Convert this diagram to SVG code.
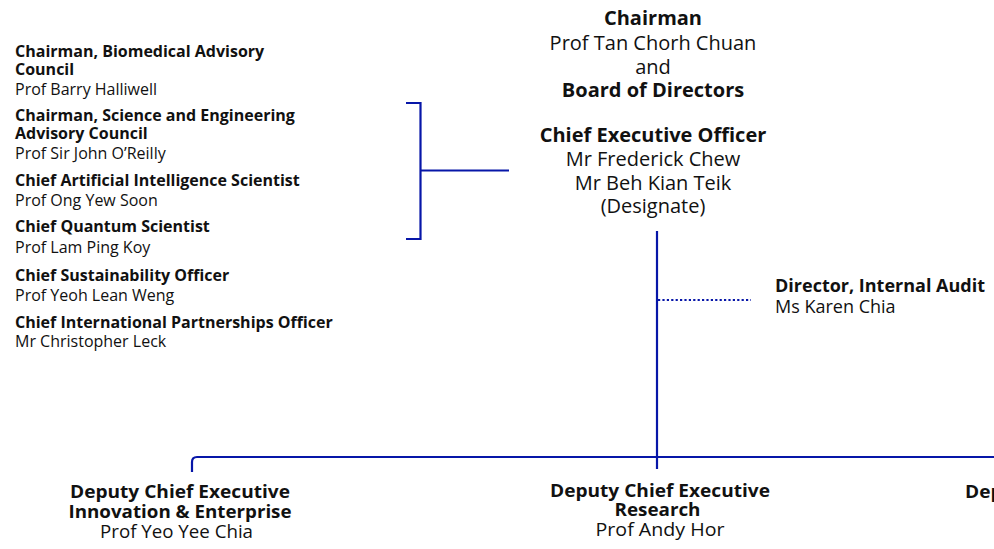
<svg xmlns="http://www.w3.org/2000/svg" width="994" height="549" viewBox="0 0 994 549">
<style>
text{font-family:"Open Sans","Noto Sans","DejaVu Sans",sans-serif;fill:#111}
.b{font-weight:bold}
.ls{font-size:16px}
.lb{font-size:16px;font-weight:bold}
.c{text-anchor:middle;font-size:20px}
.a{font-size:18px}
.d{text-anchor:middle;font-size:18px;font-weight:bold}
.dn{text-anchor:middle;font-size:18px}
.ln{fill:none;stroke:#0716a8;stroke-width:2.2}
.dot{fill:none;stroke:#0716a8;stroke-width:2.2;stroke-dasharray:2.2 2.2}
</style>
<g id="connectors">
<path class="ln" d="M406 103H420.5V239H406M420.5 170.5H509"/>
<path class="ln" d="M657 231V469"/>
<path class="dot" d="M658 300H751"/>
<path class="ln" d="M192 472V462Q192 457 197 457H994"/>
</g>
<g id="advisors">
<text class="lb" x="15" y="57">Chairman, Biomedical Advisory</text>
<text class="lb" x="15" y="75">Council</text>
<text class="ls" x="15" y="95">Prof Barry Halliwell</text>
<text class="lb" x="15" y="121">Chairman, Science and Engineering</text>
<text class="lb" x="15" y="139">Advisory Council</text>
<text class="ls" x="15" y="159">Prof Sir John O’Reilly</text>
<text class="lb" x="15" y="186">Chief Artificial Intelligence Scientist</text>
<text class="ls" x="15" y="206">Prof Ong Yew Soon</text>
<text class="lb" x="15" y="232">Chief Quantum Scientist</text>
<text class="ls" x="15" y="253">Prof Lam Ping Koy</text>
<text class="lb" x="15" y="281">Chief Sustainability Officer</text>
<text class="ls" x="15" y="301">Prof Yeoh Lean Weng</text>
<text class="lb" x="15" y="328">Chief International Partnerships Officer</text>
<text class="ls" x="15" y="347">Mr Christopher Leck</text>
</g>
<g id="chairman">
<text class="c b" x="653" y="25">Chairman</text>
<text class="c" x="653" y="50">Prof Tan Chorh Chuan</text>
<text class="c" x="653" y="74">and</text>
<text class="c b" x="653" y="97">Board of Directors</text>
</g>
<g id="ceo">
<text class="c b" x="653" y="142">Chief Executive Officer</text>
<text class="c" x="653" y="166">Mr Frederick Chew</text>
<text class="c" x="653" y="190">Mr Beh Kian Teik</text>
<text class="c" x="653" y="213">(Designate)</text>
</g>
<g id="audit">
<text class="a b" x="775" y="292">Director, Internal Audit</text>
<text class="a" x="775" y="313">Ms Karen Chia</text>
</g>
<g id="dce-ie">
<text class="d" x="180" y="498" textLength="220" lengthAdjust="spacingAndGlyphs">Deputy Chief Executive</text>
<text class="d" x="180" y="518" textLength="223" lengthAdjust="spacingAndGlyphs">Innovation &amp; Enterprise</text>
<text class="dn" x="176.5" y="538" textLength="153" lengthAdjust="spacingAndGlyphs">Prof Yeo Yee Chia</text>
</g>
<g id="dce-research">
<text class="d" x="660" y="497" textLength="220" lengthAdjust="spacingAndGlyphs">Deputy Chief Executive</text>
<text class="d" x="657.5" y="516" textLength="86" lengthAdjust="spacingAndGlyphs">Research</text>
<text class="dn" x="660" y="536" textLength="129" lengthAdjust="spacingAndGlyphs">Prof Andy Hor</text>
</g>
<g id="dce-3">
<text class="d" x="965" y="498" style="text-anchor:start" textLength="220" lengthAdjust="spacingAndGlyphs">Deputy Chief Executive</text>
</g>
</svg>
